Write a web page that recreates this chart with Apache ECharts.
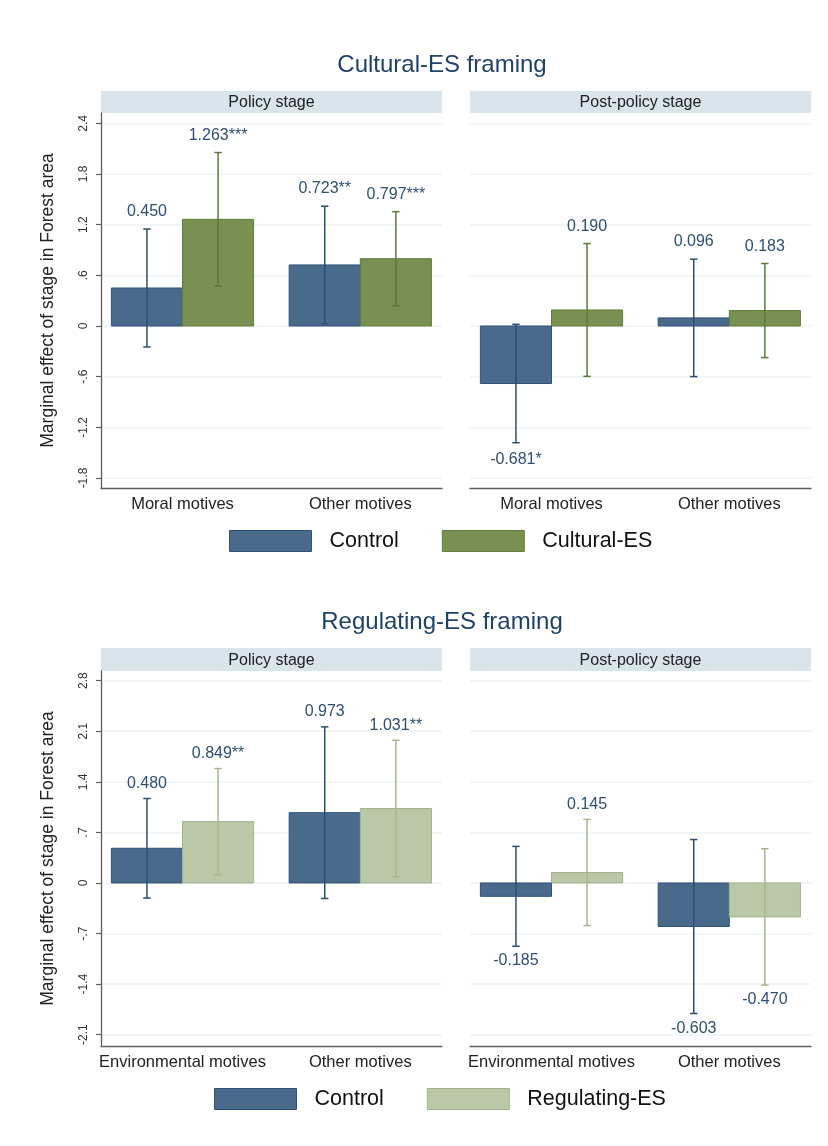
<!DOCTYPE html>
<html><head><meta charset="utf-8">
<script src="https://cdn.jsdelivr.net/npm/echarts@6/dist/echarts.min.js"></script>
<style>html,body{margin:0;padding:0;background:#fff}#c{width:828px;height:1146px}</style>
</head><body><div id="c"></div>
<script>
// ================= DATA =================
const culturalCats = ['Moral motives', 'Other motives'];
const regulatingCats = ['Environmental motives', 'Other motives'];
const panelNames = ['Policy stage', 'Post-policy stage'];
const culturalTitle = 'Cultural-ES framing';
const regulatingTitle = 'Regulating-ES framing';
const yTitle = 'Marginal effect of stage in Forest area';

const culturalTicks = [-1.8, -1.2, -0.6, 0, 0.6, 1.2, 1.8, 2.4];
const regulatingTicks = [-2.1, -1.4, -0.7, 0, 0.7, 1.4, 2.1, 2.8];
const culturalRange = [-1.918, 2.522];
const regulatingRange = [-2.257, 2.934];

// Cultural-ES framing — Policy stage
const cPolCtrl = [0.450, 0.723];
const cPolCtrlLo = [-0.248, 0.028];
const cPolCtrlHi = [1.148, 1.418];
const cPolCtrlLab = ['0.450', '0.723**'];
const cPolTreat = [1.263, 0.797];
const cPolTreatLo = [0.472, 0.240];
const cPolTreatHi = [2.054, 1.354];
const cPolTreatLab = ['1.263***', '0.797***'];
// Cultural-ES framing — Post-policy stage
const cPostCtrl = [-0.681, 0.096];
const cPostCtrlLo = [-1.382, -0.599];
const cPostCtrlHi = [0.020, 0.791];
const cPostCtrlLab = ['-0.681*', '0.096'];
const cPostTreat = [0.190, 0.183];
const cPostTreatLo = [-0.596, -0.374];
const cPostTreatHi = [0.976, 0.740];
const cPostTreatLab = ['0.190', '0.183'];

// Regulating-ES framing — Policy stage
const rPolCtrl = [0.480, 0.973];
const rPolCtrlLo = [-0.209, -0.215];
const rPolCtrlHi = [1.169, 2.161];
const rPolCtrlLab = ['0.480', '0.973'];
const rPolTreat = [0.849, 1.031];
const rPolTreatLo = [0.114, 0.087];
const rPolTreatHi = [1.584, 1.975];
const rPolTreatLab = ['0.849**', '1.031**'];
// Regulating-ES framing — Post-policy stage
const rPostCtrl = [-0.185, -0.603];
const rPostCtrlLo = [-0.876, -1.807];
const rPostCtrlHi = [0.506, 0.601];
const rPostCtrlLab = ['-0.185', '-0.603'];
const rPostTreat = [0.145, -0.470];
const rPostTreatLo = [-0.590, -1.414];
const rPostTreatHi = [0.880, 0.474];
const rPostTreatLab = ['0.145', '-0.470'];

// ================= STYLE / LAYOUT =================
const FONT = '"Liberation Sans", Arial, Helvetica, sans-serif';
const ctrlStyle = {fill: '#4a6a8c', border: '#2e5177', err: '#2b4e74'};
const cultStyle = {fill: '#789052', border: '#5f7d3c', err: '#5b7a38'};
const regStyle  = {fill: '#bac8a8', border: '#a0b388', err: '#a5b78e'};
const LABEL_COLOR = '#2e4e72';
const AXIS_COLOR = '#5e5e5e';
const GRID_COLOR = '#eef3f6';
const HEADER_FILL = '#d9e5ea';
const BW = 0.4;               // bar width in x-units (group centres at 1, 2)
const XMIN = 0.5416, XMAX = 2.4595;
const LABEL_OFF = 0.205;      // value-label offset beyond CI end (data units)

const grids = [
  {left: 101, top: 113, width: 341, height: 375},
  {left: 470, top: 113, width: 341, height: 375},
  {left: 101, top: 671, width: 341, height: 375},
  {left: 470, top: 671, width: 341, height: 375}
];

function fmtTick(v) {
  if (Math.abs(v) < 1e-9) return '0';
  let s = (+v.toFixed(1)).toString();
  return s.replace(/^(-?)0\./, '$1.');
}

function xAxisFor(g, cats) {
  return {
    type: 'value', gridIndex: g, min: XMIN, max: XMAX,
    axisLine: {show: true, onZero: false, lineStyle: {color: AXIS_COLOR, width: 1.3}},
    axisTick: {show: false},
    splitLine: {show: false},
    axisLabel: {customValues: [1, 2], formatter: v => cats[Math.round(v) - 1],
      fontSize: 16.5, color: '#222', margin: 8, fontFamily: FONT}
  };
}
function yAxisFor(g, range, ticks, left) {
  return {
    type: 'value', gridIndex: g, min: range[0], max: range[1],
    axisLine: {show: left, onZero: false, lineStyle: {color: AXIS_COLOR, width: 1.3}},
    axisTick: {show: left, length: 5, customValues: ticks, lineStyle: {color: AXIS_COLOR, width: 1.2}},
    axisLabel: {show: left, customValues: ticks, rotate: 90, formatter: fmtTick,
      fontSize: 12, color: '#333', margin: 11, fontFamily: FONT},
    splitLine: {show: true, lineStyle: {color: GRID_COLOR, width: 1.5}},
    name: left ? yTitle : '', nameLocation: 'middle', nameGap: 44, nameRotate: 90,
    nameTextStyle: {fontSize: 17.5, color: '#222', fontFamily: FONT}
  };
}

function barSeries(name, g, vals, lo, hi, labs, side, st) {
  return {
    type: 'custom', name: name, xAxisIndex: g, yAxisIndex: g,
    itemStyle: {color: st.fill, borderColor: st.border, borderWidth: 1},
    data: vals.map((v, i) => [i + 1, v, lo[i], hi[i]]),
    encode: {x: 0, y: [1, 2, 3]},
    renderItem: function (params, api) {
      const x = api.value(0), v = api.value(1), l = api.value(2), h = api.value(3);
      const x0 = side < 0 ? x - BW : x;
      const x1 = side < 0 ? x : x + BW;
      const pA = api.coord([x0, Math.max(v, 0)]);
      const pB = api.coord([x1, Math.min(v, 0)]);
      const xc = api.coord([(x0 + x1) / 2, 0])[0];
      const yl = api.coord([x, l])[1], yh = api.coord([x, h])[1];
      const ly = v >= 0 ? api.coord([x, h + LABEL_OFF])[1] : api.coord([x, l - LABEL_OFF])[1];
      const cap = 3.7;
      const ls = {stroke: st.err, lineWidth: 1.5};
      return {type: 'group', children: [
        {type: 'rect', shape: {x: pA[0], y: pA[1], width: pB[0] - pA[0], height: pB[1] - pA[1]},
          style: {fill: st.fill, stroke: st.border, lineWidth: 1}},
        {type: 'line', shape: {x1: xc, y1: yl, x2: xc, y2: yh}, style: ls},
        {type: 'line', shape: {x1: xc - cap, y1: yl, x2: xc + cap, y2: yl}, style: ls},
        {type: 'line', shape: {x1: xc - cap, y1: yh, x2: xc + cap, y2: yh}, style: ls},
        {type: 'text', x: xc, y: ly, style: {text: labs[params.dataIndex], fill: LABEL_COLOR,
          fontSize: 16, fontFamily: FONT, align: 'center', verticalAlign: 'middle'}}
      ]};
    }
  };
}

function header(x, y, h, text) {
  return [
    {type: 'rect', shape: {x: x, y: y, width: 341, height: h}, style: {fill: HEADER_FILL}, silent: true},
    {type: 'text', x: x + 170.5, y: y + h / 2 + 1, style: {text: text, fill: '#222', fontSize: 16,
      fontFamily: FONT, align: 'center', verticalAlign: 'middle'}, silent: true}
  ];
}
function titleText(y, text) {
  return {type: 'text', x: 442, y: y, style: {text: text, fill: '#1f4068', fontSize: 24,
    fontFamily: FONT, align: 'center', verticalAlign: 'middle'}, silent: true};
}

const option = {
  animation: false,
  backgroundColor: '#fff',
  grid: grids,
  xAxis: [xAxisFor(0, culturalCats), xAxisFor(1, culturalCats), xAxisFor(2, regulatingCats), xAxisFor(3, regulatingCats)],
  yAxis: [yAxisFor(0, culturalRange, culturalTicks, true), yAxisFor(1, culturalRange, culturalTicks, false),
          yAxisFor(2, regulatingRange, regulatingTicks, true), yAxisFor(3, regulatingRange, regulatingTicks, false)],
  legend: [
    {data: [{name: 'Control', itemStyle: {color: ctrlStyle.fill, borderColor: ctrlStyle.border, borderWidth: 1}},
            {name: 'Cultural-ES', itemStyle: {color: cultStyle.fill, borderColor: cultStyle.border, borderWidth: 1}}],
     left: 229, top: 530, padding: 0, itemWidth: 82, itemHeight: 21, itemGap: 43, icon: 'rect', selectedMode: false,
     textStyle: {fontSize: 21.5, color: '#111', fontFamily: FONT, padding: [0, 0, 0, 13]}},
    {data: [{name: 'Control', itemStyle: {color: ctrlStyle.fill, borderColor: ctrlStyle.border, borderWidth: 1}},
            {name: 'Regulating-ES', itemStyle: {color: regStyle.fill, borderColor: regStyle.border, borderWidth: 1}}],
     left: 214, top: 1088, padding: 0, itemWidth: 82, itemHeight: 21, itemGap: 43, icon: 'rect', selectedMode: false,
     textStyle: {fontSize: 21.5, color: '#111', fontFamily: FONT, padding: [0, 0, 0, 13]}}
  ],
  graphic: [
    titleText(65, culturalTitle),
    titleText(622, regulatingTitle),
    ...header(101, 91, 22, panelNames[0]),
    ...header(470, 91, 22, panelNames[1]),
    ...header(101, 648, 23, panelNames[0]),
    ...header(470, 648, 23, panelNames[1])
  ],
  series: [
    barSeries('Control', 0, cPolCtrl, cPolCtrlLo, cPolCtrlHi, cPolCtrlLab, -1, ctrlStyle),
    barSeries('Cultural-ES', 0, cPolTreat, cPolTreatLo, cPolTreatHi, cPolTreatLab, 1, cultStyle),
    barSeries('Control', 1, cPostCtrl, cPostCtrlLo, cPostCtrlHi, cPostCtrlLab, -1, ctrlStyle),
    barSeries('Cultural-ES', 1, cPostTreat, cPostTreatLo, cPostTreatHi, cPostTreatLab, 1, cultStyle),
    barSeries('Control', 2, rPolCtrl, rPolCtrlLo, rPolCtrlHi, rPolCtrlLab, -1, ctrlStyle),
    barSeries('Regulating-ES', 2, rPolTreat, rPolTreatLo, rPolTreatHi, rPolTreatLab, 1, regStyle),
    barSeries('Control', 3, rPostCtrl, rPostCtrlLo, rPostCtrlHi, rPostCtrlLab, -1, ctrlStyle),
    barSeries('Regulating-ES', 3, rPostTreat, rPostTreatLo, rPostTreatHi, rPostTreatLab, 1, regStyle)
  ]
};

const chart = echarts.init(document.getElementById('c'), null, {renderer: 'canvas'});
chart.setOption(option);
</script>
</body></html>
